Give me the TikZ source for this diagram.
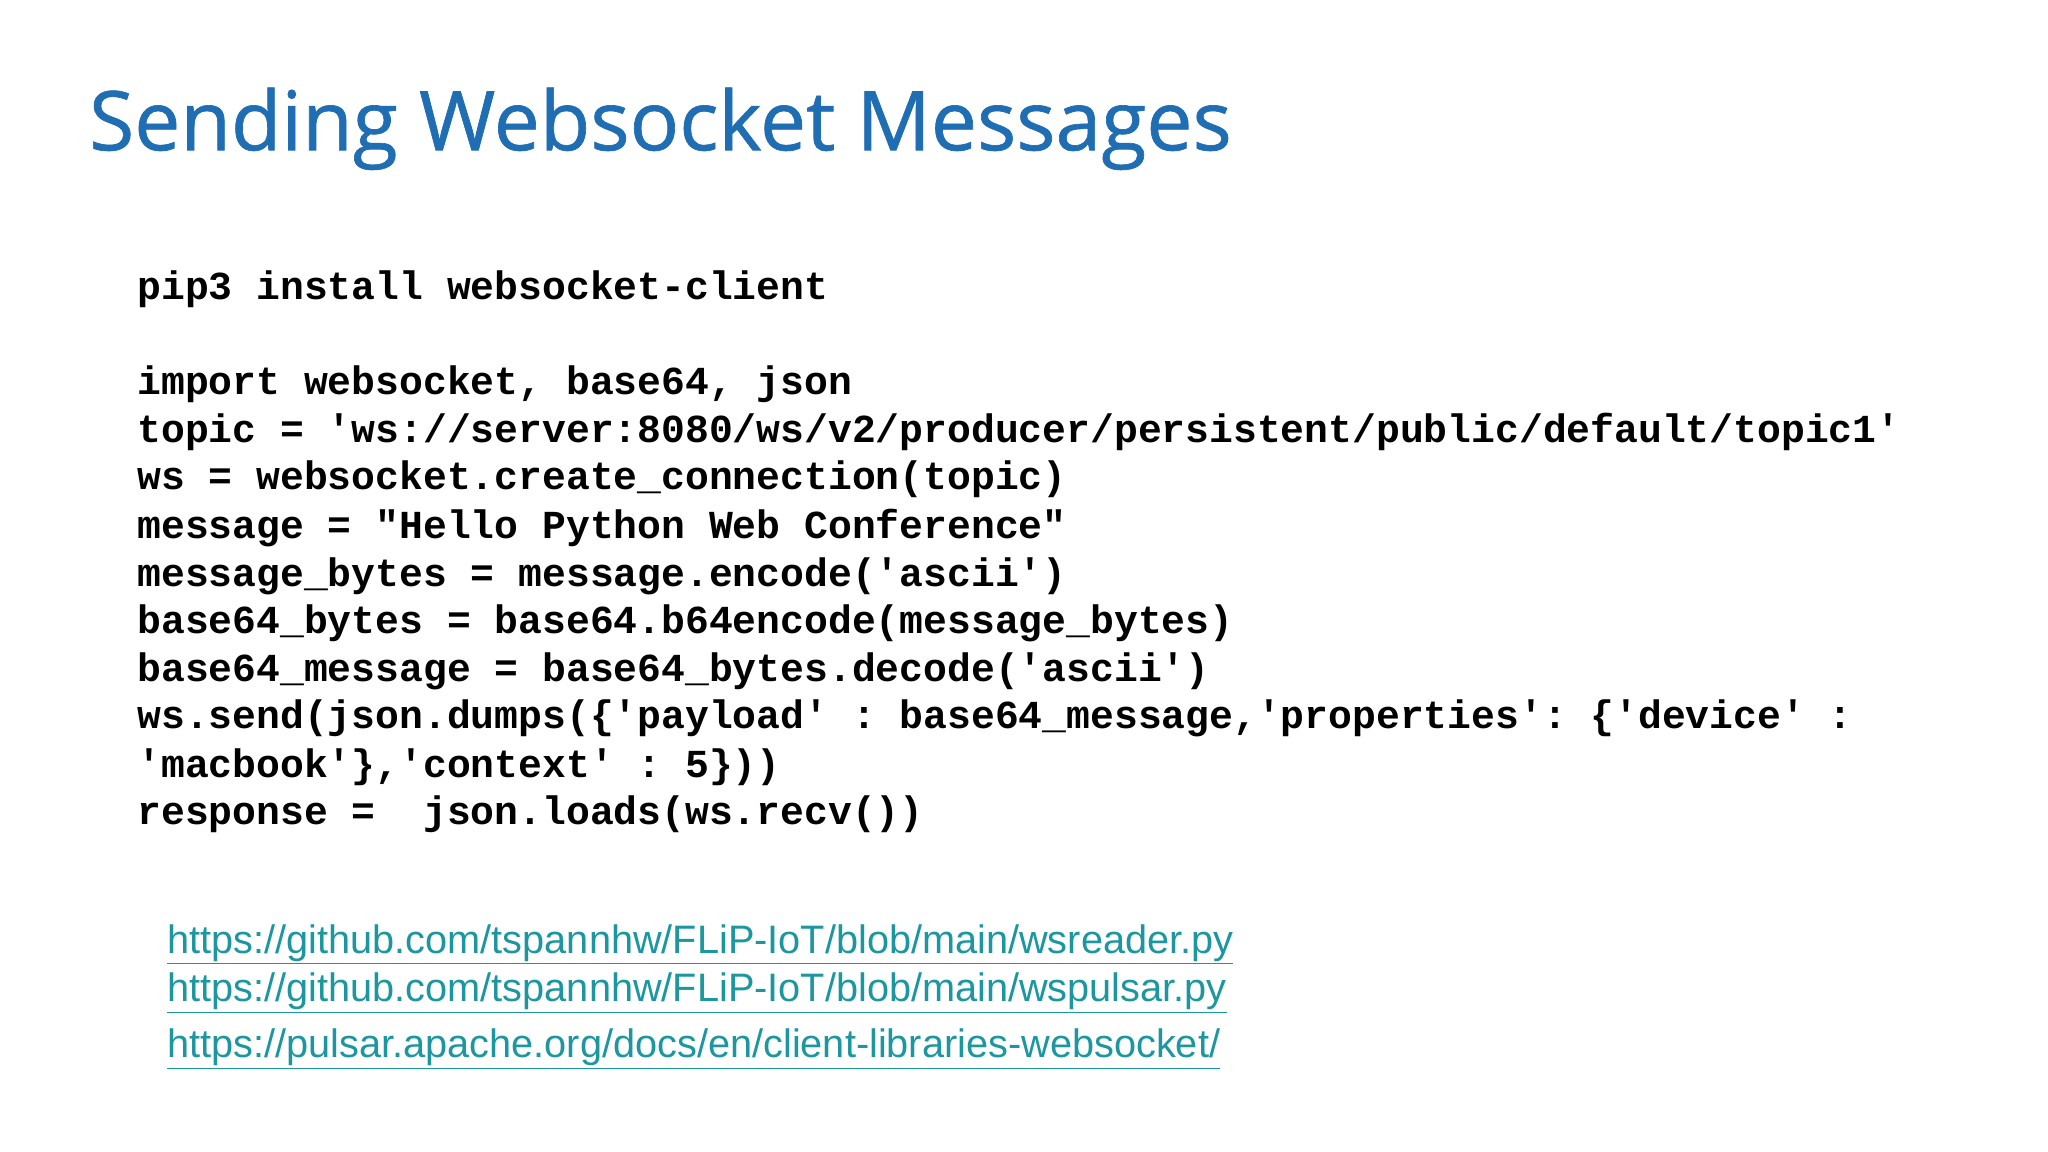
\documentclass[tikz,border=0pt]{standalone}
\usepackage{fontspec}
\setmainfont{Liberation Sans}
\setmonofont{Liberation Mono}
\newfontfamily\titlefont[FakeBold=0.8]{Open Sans}
\definecolor{titleblue}{HTML}{1F6DB3}
\definecolor{linkteal}{HTML}{1C97A0}
\begin{document}
\begin{tikzpicture}[x=1pt,y=-1pt,
  codeline/.style={anchor=base west,inner sep=0pt,font=\ttfamily\bfseries\fontsize{30.4}{36}\selectfont},
  linkline/.style={anchor=base west,inner sep=0pt,text=linkteal,font=\fontsize{30.4}{34}\selectfont}]
\useasboundingbox[fill=white] (0,0) rectangle (1568,882);
\node[anchor=base west,inner sep=0pt,text=titleblue,font=\titlefont\fontsize{63}{72}\selectfont] (title) at (68,115) {Sending Websocket Messages};
\node[codeline] (c0) at (105,229) {pip3 install websocket-client};
\node[codeline] (c1) at (105,302) {import websocket, base64, json};
\node[codeline] (c2) at (105,339) {topic = 'ws://server:8080/ws/v2/producer/persistent/public/default/topic1'};
\node[codeline] (c3) at (105,375) {ws = websocket.create\_connection(topic)};
\node[codeline] (c4) at (105,412) {message = "Hello Python Web Conference"};
\node[codeline] (c5) at (105,449) {message\_bytes = message.encode('ascii')};
\node[codeline] (c6) at (105,485) {base64\_bytes = base64.b64encode(message\_bytes)};
\node[codeline] (c7) at (105,522) {base64\_message = base64\_bytes.decode('ascii')};
\node[codeline] (c8) at (105,558) {ws.send(json.dumps(\{'payload' : base64\_message,'properties': \{'device' :};
\node[codeline] (c9) at (105,595) {'macbook'\},'context' : 5\}))};
\node[codeline] (c10) at (105,631) {response =\ \ json.loads(ws.recv())};
\node[linkline] (l1) at (128,730) {\underline{https://github.com/tspannhw/FLiP-IoT/blob/main/wsreader.py}};
\node[linkline] (l2) at (128,767) {\underline{https://github.com/tspannhw/FLiP-IoT/blob/main/wspulsar.py}};
\node[linkline] (l3) at (128,810) {\underline{https://pulsar.apache.org/docs/en/client-libraries-websocket/}};
\end{tikzpicture}
\end{document}
